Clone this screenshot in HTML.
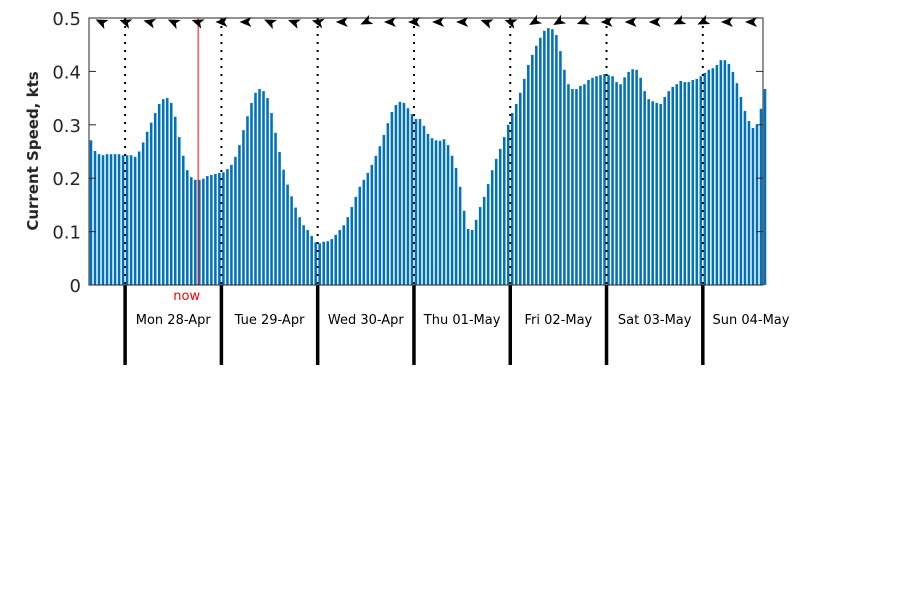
<!DOCTYPE html>
<html><head><meta charset="utf-8"><style>
body{margin:0;background:#fff;}
svg{display:block;font-family:"DejaVu Sans","Liberation Sans",sans-serif;}
</style></head><body>
<svg id="chart" width="900" height="600" viewBox="0 0 900 600"></svg>
<script>
const day0 = [0.271,0.251,0.245,0.243,0.245,0.245,0.245,0.245,0.243];
const mon = [0.243,0.243,0.240,0.250,0.267,0.287,0.304,0.322,0.339,0.348,0.350,0.341,0.315,0.277,0.242,0.215,0.202,0.197,0.197,0.199,0.204,0.206,0.208,0.210];
const tue = [0.211,0.217,0.225,0.240,0.262,0.290,0.316,0.341,0.360,0.367,0.363,0.350,0.322,0.285,0.249,0.216,0.188,0.166,0.145,0.127,0.112,0.103,0.092,0.080];
const wed = [0.078,0.081,0.082,0.086,0.094,0.103,0.112,0.127,0.146,0.165,0.184,0.197,0.210,0.225,0.242,0.260,0.281,0.303,0.324,0.337,0.343,0.341,0.331,0.320];
const thu = [0.311,0.311,0.298,0.283,0.275,0.271,0.270,0.273,0.262,0.242,0.219,0.184,0.139,0.105,0.103,0.122,0.146,0.165,0.189,0.215,0.236,0.255,0.277,0.300];
const fri = [0.322,0.339,0.360,0.386,0.412,0.431,0.448,0.463,0.476,0.481,0.479,0.468,0.438,0.403,0.376,0.367,0.367,0.373,0.376,0.384,0.388,0.391,0.393,0.395];
const sat = [0.393,0.391,0.380,0.376,0.389,0.399,0.404,0.403,0.388,0.363,0.348,0.344,0.341,0.339,0.352,0.363,0.371,0.376,0.382,0.380,0.380,0.384,0.386,0.391];
const sun = [0.397,0.403,0.406,0.412,0.421,0.421,0.414,0.399,0.378,0.352,0.326,0.307,0.294,0.300,0.330,0.367];
const speeds = [].concat(day0,mon,tue,wed,thu,fri,sat,sun);
const dayLabels = ["Mon 28-Apr","Tue 29-Apr","Wed 30-Apr","Thu 01-May","Fri 02-May","Sat 03-May","Sun 04-May"];
const midnightHours = [9,33,57,81,105,129,153];
const yTicks = [0,0.1,0.2,0.3,0.4,0.5];
const nowHour = 27.2;
const arrowHours = [3,9,15,21,27,33,39,45,51,57,63,69,75,81,87,93,99,105,111,117,123,129,135,141,147,153,159,165];
const arrowAngles = [205,200,195,205,200,180,180,205,200,195,180,155,180,180,180,180,200,200,150,150,160,180,180,180,155,155,180,180];

const NS="http://www.w3.org/2000/svg";
const svg=document.getElementById('chart');
const L=89,R=763,T=18,B=285,H0=0,H1=168;
const x=h=>L+(h-H0)/(H1-H0)*(R-L);
const y=v=>B-v/0.5*(B-T);
function mk(tag,attrs,parent){const e=document.createElementNS(NS,tag);for(const k in attrs)e.setAttribute(k,attrs[k]);(parent||svg).appendChild(e);return e;}

const gb=mk('g',{});


const bw=(x(1)-x(0))*0.64;
speeds.forEach((v,i)=>{
  const r=mk('rect',{x:x(i+0.5)-bw/2,y:y(v),width:bw,height:B-y(v),fill:'#0072bd'},gb);
  
  
});
midnightHours.forEach(h=>{
  const d=mk('line',{x1:x(h),x2:x(h),y1:T,y2:B,stroke:'#000','stroke-width':2,'stroke-dasharray':'2,6'});
  
  
  const t=mk('line',{x1:x(h),x2:x(h),y1:B,y2:365,stroke:'#000','stroke-width':3.5});
  
  
});
dayLabels.forEach((s,i)=>{
  const t=mk('text',{x:x(midnightHours[i]+12),y:324,'font-size':13,'text-anchor':'middle',fill:'#000'});
  t.textContent=s;
  
  
});
const nl=mk('line',{x1:x(nowHour),x2:x(nowHour),y1:T,y2:B,stroke:'#ff0000','stroke-width':1});


const nt=mk('text',{x:x(nowHour)+2,y:300,'font-size':13,'text-anchor':'end',fill:'#ff0000'});
nt.textContent='now';


const box=mk('rect',{x:L,y:T,width:R-L,height:B-T,fill:'none',stroke:'#262626','stroke-width':1});


yTicks.forEach(v=>{
  mk('line',{x1:L,x2:L+7,y1:y(v),y2:y(v),stroke:'#262626'});
  mk('line',{x1:R-7,x2:R,y1:y(v),y2:y(v),stroke:'#262626'});
  const t=mk('text',{x:81,y:y(v)+7,'font-size':18,'text-anchor':'end',fill:'#262626'});
  t.textContent=v===0?'0':v.toFixed(1);
  
  
});
const yt=mk('text',{x:38,y:151,'font-size':15,'font-weight':'bold','text-anchor':'middle',fill:'#262626',transform:'rotate(-90 38 151)'});
yt.textContent='Current Speed, kts';


arrowHours.forEach((h,i)=>{
  const g=mk('g',{transform:`translate(${x(h)},${T+4}) rotate(${arrowAngles[i]})`});
  
  
  mk('path',{d:'M6,0 L-6,-5 L-3,0 L-6,5 Z',fill:'#000'},g);
});
</script>
</body></html>
